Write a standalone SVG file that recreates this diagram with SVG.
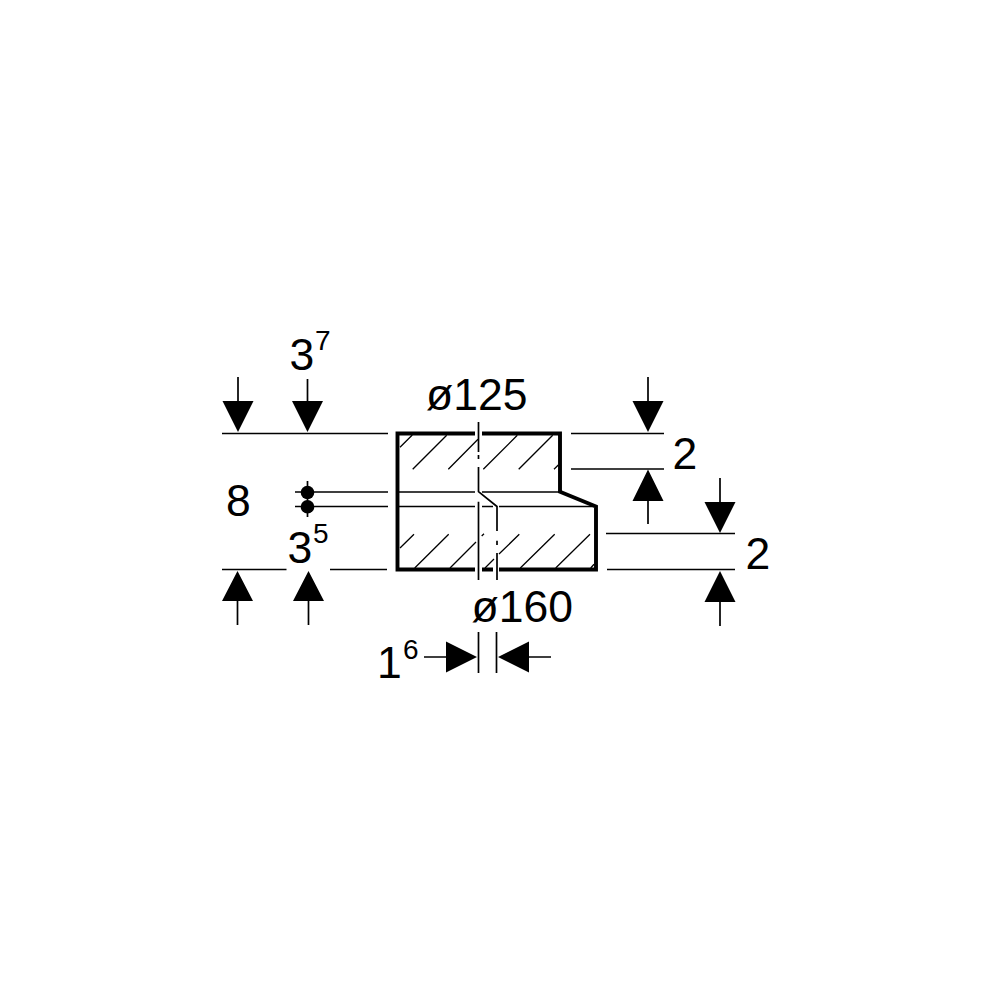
<svg xmlns="http://www.w3.org/2000/svg" width="1000" height="1000" viewBox="0 0 1000 1000">
<style>
.o{fill:none;stroke:#000;stroke-width:3.9;stroke-linejoin:miter}
.l{fill:none;stroke:#000;stroke-width:1.7}
.t{fill:none;stroke:#000;stroke-width:1.4}
.h{fill:none;stroke:#000;stroke-width:1.3}
.a{fill:#000;stroke:none}
text{font-family:"Liberation Sans",Arial,sans-serif;font-size:44.5px;fill:#000}
.s{font-size:28px}
</style>
<rect width="1000" height="1000" fill="#fff"/>
<g id="part">
<path class="h" d="M400 447.3L412.3 435M412.7 469.3L446.7 435.3M448.3 469.3L478 439.3M483.3 469.3L517.3 435.3M518.7 469.3L552.7 435.3M554 469.3L558.3 465M400 548L414 534.3M414.7 568L448.7 534.3M450 568L476 542M481.700 536L484 533.7M485 568L494 559M499 554L519.3 534.3M520.3 568L554.7 534.3M555.7 568L590 534.3M590.7 568L594 564.3"/>
<path class="t" d="M398 492H475M482 492H560M398 506.500H475M482 506.500H493M499 506.500H596"/>
<path class="o" d="M475 433.500H397.500V569.500H475M482 433.500H560V491.700L596 506.500V569.500H499M482 569.500H493"/>
<path class="l" d="M478.500 422V452M478.500 455V459M478.500 467V491.700L497 506.500V531M497 540.700V545M497 553V580M478.500 501.700V580"/>
</g>
<g id="connectors">
<path class="l" d="M222 433.500H388M222 569.500H286.500M330 569.500H387M295 492H388M295 506.500H388M307.500 481V517M571 433.500H664M571 469H664M606 533.500H735M607 569.500H735M478.500 632V673M496.500 632V673"/>
<path class="l" d="M238 377V402M307.500 379V402M237.500 600V625M308.500 600V625M648 377V402M648 500V524M720 478V503M720 601V626M424 657H447M528 657H551"/>
<path class="a" d="M222.500 401H253.500L238 432ZM292 401H323L307.500 432ZM222 601H253L237.500 571ZM293 601H324L308.500 571ZM632.500 401H663.500L648 432ZM632.500 501H663.500L648 469.500ZM704.500 502H735.500L720 533ZM704.500 602H735.500L720 571ZM446 641.500V672.500L477 657ZM529 641.500V672.500L498 657Z"/>
<circle class="a" cx="307.500" cy="492.500" r="6.800"/>
<circle class="a" cx="307.500" cy="506.800" r="6.800"/>
</g>
<g id="labels">
<text x="289.500" y="369.500">3</text><text class="s" x="315" y="350">7</text>
<text x="426" y="410">ø125</text>
<text x="226" y="516">8</text>
<text x="287.500" y="563">3</text><text class="s" x="313" y="543">5</text>
<text x="672.500" y="468.500">2</text>
<text x="745.500" y="568.500">2</text>
<text x="471.500" y="622">ø160</text>
<text x="377" y="678">1</text><text class="s" x="403" y="659">6</text>
</g>
</svg>
